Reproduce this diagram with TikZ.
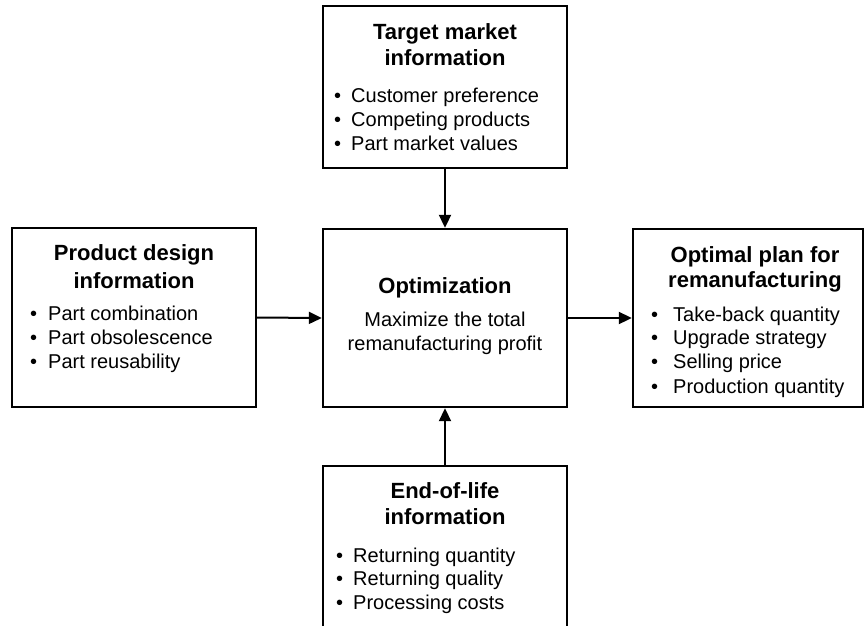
\documentclass[tikz,border=0pt]{standalone}
\usepackage{fontspec}
\setmainfont{Liberation Sans}
\usetikzlibrary{arrows.meta}
\begin{document}
\begin{tikzpicture}[x=1pt,y=-1pt,
  box/.style={draw=black,line width=2.4pt,fill=white,rectangle,inner sep=0pt},
  ttl/.style={font=\fontsize{22}{26}\selectfont\bfseries,anchor=base,inner sep=0pt},
  txt/.style={font=\fontsize{20}{24}\selectfont,anchor=base west,inner sep=0pt},
  ctr/.style={font=\fontsize{20}{24}\selectfont,anchor=base,inner sep=0pt},
  arr/.style={line width=2pt,-{Triangle[length=13pt,width=12pt]}}]
\clip (0,0) rectangle (868,625);
\fill[white] (0,0) rectangle (868,625);

% the five boxes
\node[box,minimum width=244pt,minimum height=162pt] (market) at (445,87) {};
\node[box,minimum width=244pt,minimum height=179pt] (design) at (134,317.5) {};
\node[box,minimum width=244pt,minimum height=178pt] (opt) at (445,318) {};
\node[box,minimum width=230pt,minimum height=178pt] (plan) at (748,318) {};
\node[box,minimum width=244pt,minimum height=180pt] (eol) at (445,556) {};

% connectors
\draw[arr] (market.south) -- (opt.north);
\draw[arr] (design.east) -- (opt.west);
\draw[arr] (opt.east) -- (plan.west);
\draw[arr] (eol.north) -- (opt.south);

% target market information
\node[ttl] (t1) at (445,39) {Target market};
\node[ttl] (t2) at (445,65.5) {information};
\node[txt] (t3b) at (334,102) {•};
\node[txt] (t3) at (351,102) {Customer preference};
\node[txt] (t4b) at (334,126) {•};
\node[txt] (t4) at (351,126) {Competing products};
\node[txt] (t5b) at (334,150) {•};
\node[txt] (t5) at (351,150) {Part market values};

% product design information
\node[ttl] (d1) at (134,260) {Product design};
\node[ttl] (d2) at (134,288) {information};
\node[txt] (d3b) at (30,320) {•};
\node[txt] (d3) at (48,320) {Part combination};
\node[txt] (d4b) at (30,344) {•};
\node[txt] (d4) at (48,344) {Part obsolescence};
\node[txt] (d5b) at (30,368) {•};
\node[txt] (d5) at (48,368) {Part reusability};

% optimization
\node[ttl] (o1) at (445,293) {Optimization};
\node[ctr] (o2) at (445,326) {Maximize the total};
\node[ctr] (o3) at (445,350) {remanufacturing profit};

% optimal plan for remanufacturing
\node[ttl] (p1) at (755,262) {Optimal plan for};
\node[ttl] (p2) at (755,287) {remanufacturing};
\node[txt] (p3b) at (651,321) {•};
\node[txt] (p3) at (673,321) {Take-back quantity};
\node[txt] (p4b) at (651,344) {•};
\node[txt] (p4) at (673,344) {Upgrade strategy};
\node[txt] (p5b) at (651,368) {•};
\node[txt] (p5) at (673,368) {Selling price};
\node[txt] (p6b) at (651,393) {•};
\node[txt] (p6) at (673,393) {Production quantity};

% end-of-life information
\node[ttl] (e1) at (445,498) {End-of-life};
\node[ttl] (e2) at (445,524) {information};
\node[txt] (e3b) at (336,562) {•};
\node[txt] (e3) at (353,562) {Returning quantity};
\node[txt] (e4b) at (336,585) {•};
\node[txt] (e4) at (353,585) {Returning quality};
\node[txt] (e5b) at (336,609) {•};
\node[txt] (e5) at (353,609) {Processing costs};
\end{tikzpicture}
\end{document}
